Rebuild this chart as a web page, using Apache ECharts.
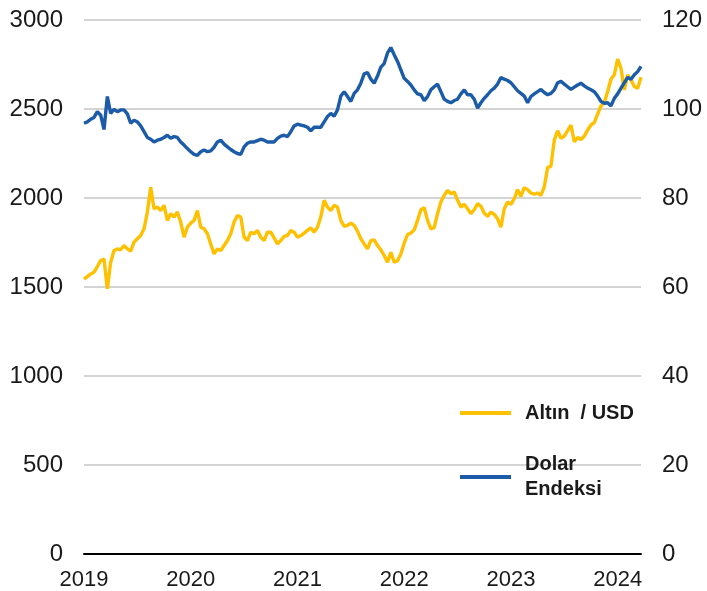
<!DOCTYPE html>
<html><head><meta charset="utf-8">
<script src="https://cdn.jsdelivr.net/npm/echarts@6/dist/echarts.min.js"></script>
<style>html,body{margin:0;padding:0;background:#fff}#c{width:707px;height:591px}</style>
</head><body><div id="c"></div>
<script>
const tickLabels = ['2019', '2020', '2021', '2022', '2023', '2024'];
const pointsPerYear = 32;
const goldName = 'Altın  / USD';
const dollarName = 'Dolar Endeksi';

const gold = [
  1545,1558,1573,1583,1615,1648,1658,1490,1639,1705,
  1714,1709,1733,1714,1701,1752,1771,1789,1827,1921,
  2060,1940,1949,1930,1959,1874,1912,1893,1921,1865,
  1780,1836,1859,1874,1930,1836,1827,1799,1742,1686,
  1714,1705,1733,1761,1799,1865,1902,1893,1780,1761,
  1808,1799,1818,1780,1761,1808,
  1808,1776,1742,1761,1784,1789,1818,1808,1780,1789,
  1803,1818,1833,1808,1836,1893,1987,1949,1930,1959,
  1949,1874,1840,1846,1859,1846,1814,1771,1742,1714,
  1761,1765,1733,1709,1677,1639,1695,1639,1648,1686,
  1746,1795,1803,1821,1874,1934,1945,1874,1827,1833,
  1912,1977,2015,2043,2024,2034,
  1987,1949,1964,1940,1912,1934,1968,1953,1915,1897,
  1921,1908,1883,1836,1940,1977,1964,1996,2047,2009,
  2058,2047,2028,2021,2028,2015,2062,2171,2179,2325,
  2378,2335,2348,2378,2410,2316,2340,2329,2348,2382,
  2410,2423,2472,2517,2536,2598,2667,2692,2780,2729,
  2607,2692,2664,2626,2617,2679
];

const dollar = [
  96.8,97.1,97.7,98.1,99.4,98.6,95.4,102.8,99.0,99.9,
  99.4,99.8,99.8,98.9,96.8,97.5,97.1,96.2,94.9,93.6,
  93.2,92.6,93.0,93.2,93.6,94.1,93.4,93.8,93.6,92.6,
  91.9,91.1,90.4,89.8,89.6,90.4,90.8,90.4,90.6,91.4,
  92.6,93.0,92.1,91.5,90.9,90.4,90.0,89.8,91.5,92.3,
  92.6,92.6,92.9,93.2,93.0,92.6,
  92.6,92.6,93.4,93.9,94.1,93.8,94.9,96.2,96.6,96.4,
  96.2,95.9,95.1,95.9,95.9,95.9,97.1,98.3,99.0,98.4,
  99.8,102.9,103.9,102.8,101.7,103.5,104.3,105.8,107.9,108.2,
  106.7,105.8,107.4,109.4,110.2,112.6,113.8,112.2,110.7,108.8,
  106.9,106.2,105.4,104.3,103.4,103.2,101.9,102.8,104.3,105.0,
  105.6,103.9,102.2,101.7,101.4,101.9,
  102.2,103.4,104.3,103.2,103.2,102.2,100.2,101.4,102.4,103.2,
  104.1,104.7,105.6,107.1,106.7,106.4,105.9,105.0,104.1,103.5,
  102.9,101.4,102.8,103.4,103.9,104.4,103.7,103.2,103.5,104.3,
  105.9,106.2,105.6,105.0,104.4,104.9,105.4,105.8,105.2,104.7,
  104.3,103.9,102.9,101.7,101.3,101.4,100.7,102.4,103.4,104.7,
  105.9,107.1,106.7,107.7,108.4,109.6
];

const categories = gold.map((_, i) => String(i));
const FONT = "'Liberation Sans', Arial, sans-serif";
const GOLD = '#FFC000';
const BLUE = '#1B5BA8';

const chart = echarts.init(document.getElementById('c'), null, {renderer: 'canvas'});
chart.setOption({
  animation: false,
  backgroundColor: '#ffffff',
  textStyle: {fontFamily: FONT},
  grid: {left: 84, right: 66, top: 20, bottom: 36, containLabel: false},
  xAxis: {
    type: 'category',
    data: categories,
    boundaryGap: false,
    axisLine: {show: true, lineStyle: {color: '#000', width: 2}},
    axisTick: {show: false},
    splitLine: {show: false},
    axisLabel: {
      interval: (idx) => idx % pointsPerYear === 0,
      formatter: (v, idx) => tickLabels[Math.round(Number(v) / pointsPerYear)] || '',
      color: '#1a1a1a', fontSize: 22, fontFamily: FONT, margin: 15
    }
  },
  yAxis: [
    {
      type: 'value', min: 0, max: 3000, interval: 500, position: 'left',
      axisLine: {show: false}, axisTick: {show: false},
      splitLine: {show: true, lineStyle: {color: '#d4d4d4', width: 2}},
      axisLabel: {color: '#1a1a1a', fontSize: 24, fontFamily: FONT, margin: 21,
        formatter: (v) => String(v)}
    },
    {
      type: 'value', min: 0, max: 120, interval: 20, position: 'right',
      axisLine: {show: false}, axisTick: {show: false},
      splitLine: {show: false},
      axisLabel: {color: '#1a1a1a', fontSize: 24, fontFamily: FONT, margin: 21,
        formatter: (v) => String(v)}
    }
  ],
  legend: [
    {
      data: [goldName], left: 455, top: 398, orient: 'vertical',
      icon: 'rect', itemWidth: 51, itemHeight: 4,
      textStyle: {fontSize: 20, fontWeight: 'bold', color: '#1a1a1a', fontFamily: FONT, padding: [0, 0, 0, 9]}
    },
    {
      data: [dollarName], left: 455, top: 447, orient: 'vertical',
      icon: 'rect', itemWidth: 51, itemHeight: 4,
      formatter: (n) => n.replace(' ', '\n'),
      textStyle: {fontSize: 20, fontWeight: 'bold', color: '#1a1a1a', fontFamily: FONT, lineHeight: 25, padding: [0, 0, 0, 9]}
    }
  ],
  series: [
    {
      name: goldName, type: 'line', yAxisIndex: 0, data: gold,
      showSymbol: false, symbol: 'none', smooth: false,
      lineStyle: {color: GOLD, width: 3.4}, itemStyle: {color: GOLD}
    },
    {
      name: dollarName, type: 'line', yAxisIndex: 1, data: dollar,
      showSymbol: false, symbol: 'none', smooth: false,
      lineStyle: {color: BLUE, width: 3.4}, itemStyle: {color: BLUE}
    }
  ]
});
</script>
</body></html>
